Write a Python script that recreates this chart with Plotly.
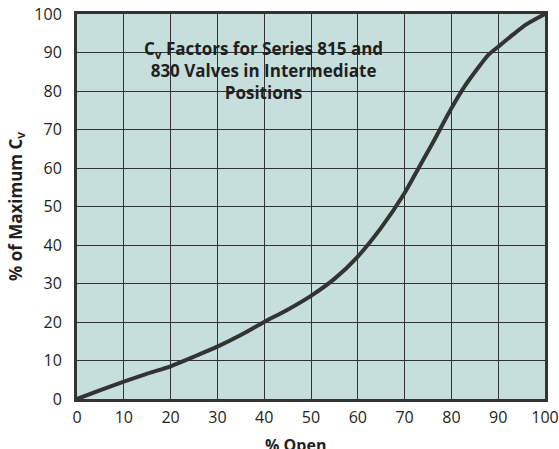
import plotly.graph_objects as go

# Data
pct_open = [0, 5, 10, 15, 20, 25, 30, 35, 40, 45, 50, 55, 60, 65, 70, 73, 76, 80, 83, 86, 88, 90, 93, 96, 100]
pct_cv = [0, 2.3, 4.5, 6.6, 8.5, 11.0, 13.6, 16.6, 20.0, 23.2, 26.8, 31.2, 37.0, 44.5, 53.5, 60.0, 66.5, 75.5, 81.5, 86.5, 89.5, 91.5, 94.5, 97.3, 100]

x_ticks = [0, 10, 20, 30, 40, 50, 60, 70, 80, 90, 100]
y_ticks = [0, 10, 20, 30, 40, 50, 60, 70, 80, 90, 100]

title_lines = ["C<sub>v</sub> Factors for Series 815 and", "830 Valves in Intermediate", "Positions"]

BG = "#c6dfdd"
DARK = "#333333"
TXT = "#231f20"
FONT = "Open Sans, Lato, sans-serif"

fig = go.Figure()
fig.add_trace(go.Scatter(
    x=pct_open, y=pct_cv, mode="lines",
    line=dict(color=DARK, width=4, shape="spline", smoothing=0.6),
    hoverinfo="skip", showlegend=False,
))

# Box behind the chart title, hiding the grid lines
fig.add_shape(type="rect", xref="x", yref="y", x0=13.0, x1=66.7, y0=74.3, y1=97.1,
              fillcolor=BG, line=dict(width=0), layer="below")

fig.add_annotation(
    x=39.9, y=85.4, xref="x", yref="y",
    text="<b>" + "<br>".join(title_lines) + "</b>", showarrow=False,
    font=dict(family=FONT, size=17, color=TXT),
    align="center",
)

# x-axis title (slightly left of the axis centre, partly cut by the bottom edge)
fig.add_annotation(
    x=46.6, y=0, xref="x", yref="paper", yanchor="top", yshift=-33,
    text="<b>% Open</b>", showarrow=False,
    font=dict(family=FONT, size=16, color=TXT),
)

fig.update_layout(
    width=559, height=449,
    margin=dict(l=77, r=14, t=14, b=50),
    paper_bgcolor="white",
    plot_bgcolor=BG,
    font=dict(family=FONT, color=TXT),
    xaxis=dict(
        range=[0, 100], tickvals=x_ticks, ticktext=[str(v) for v in x_ticks],
        showgrid=True, gridcolor=DARK, gridwidth=1,
        showline=True, linecolor=DARK, linewidth=3, mirror=True,
        zeroline=False, ticks="", tickfont=dict(size=16), ticklabelstandoff=2,
        automargin=False,
    ),
    yaxis=dict(
        range=[0, 100], tickvals=y_ticks, ticktext=[str(v) for v in y_ticks],
        showgrid=True, gridcolor=DARK, gridwidth=1,
        showline=True, linecolor=DARK, linewidth=3, mirror=True,
        zeroline=False, ticks="", tickfont=dict(size=16), ticklabelstandoff=9,
        title=dict(text="<b>% of Maximum C<sub>v</sub></b>", font=dict(size=17), standoff=8),
        automargin=False,
    ),
)

fig.write_html("out.html", config={"displayModeBar": False},
               post_script="document.body.style.margin='0px';")
